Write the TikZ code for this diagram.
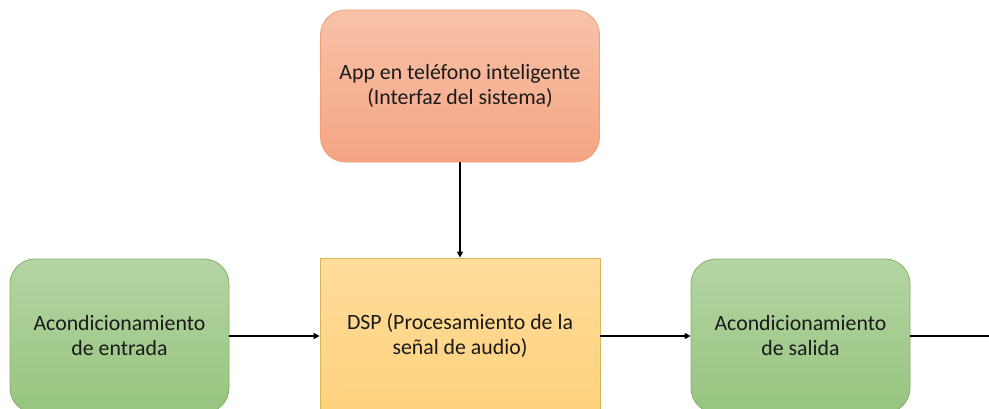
\documentclass[tikz,border=0pt]{standalone}
\usepackage{fontspec}
\setmainfont{Carlito}
\usetikzlibrary{arrows.meta}
\definecolor{orT}{HTML}{F8C2AA}
\definecolor{orB}{HTML}{F4A582}
\definecolor{orD}{HTML}{F0A070}
\definecolor{yeT}{HTML}{FFDC9C}
\definecolor{yeB}{HTML}{FFD27C}
\definecolor{yeD}{HTML}{D6B656}
\definecolor{grT}{HTML}{B4D5A3}
\definecolor{grB}{HTML}{97C47F}
\definecolor{grD}{HTML}{82B366}
\definecolor{txt}{HTML}{1A1A1A}
\tikzset{
  box/.style={align=center, text=txt, font=\fontsize{21.8}{25}\selectfont, line width=0.8pt, inner sep=0pt},
  appbox/.style={box, draw=orD, top color=orT, bottom color=orB, rounded corners=25pt, minimum width=279pt, minimum height=152pt},
  dspbox/.style={box, draw=yeD, top color=yeT, bottom color=yeB, minimum width=280pt, minimum height=156pt},
  condbox/.style={box, draw=grD, top color=grT, bottom color=grB, rounded corners=25pt, minimum width=219pt, minimum height=154pt},
  conn/.style={line width=2pt, -{Triangle[length=6pt,width=6pt]}},
}
\begin{document}
\begin{tikzpicture}[x=1pt,y=1pt]
\useasboundingbox (0,0) rectangle (989,408);
\clip (0,0) rectangle (989,408);
\node[appbox] (app) at (460,322) {App en teléfono inteligente\\(Interfaz del sistema)};
\node[dspbox] (dsp) at (460,72) {DSP (Procesamiento de la\\señal de audio)};
\node[condbox] (in) at (119.5,72) {Acondicionamiento\\de entrada};
\node[condbox] (out) at (800.5,72) {Acondicionamiento\\de salida};
\coordinate (end) at (989,72);
\draw[conn] (app) -- (dsp);
\draw[conn] (in) -- (dsp);
\draw[conn] (dsp) -- (out);
\draw[line width=2pt] (out) -- (end);
\end{tikzpicture}
\end{document}
